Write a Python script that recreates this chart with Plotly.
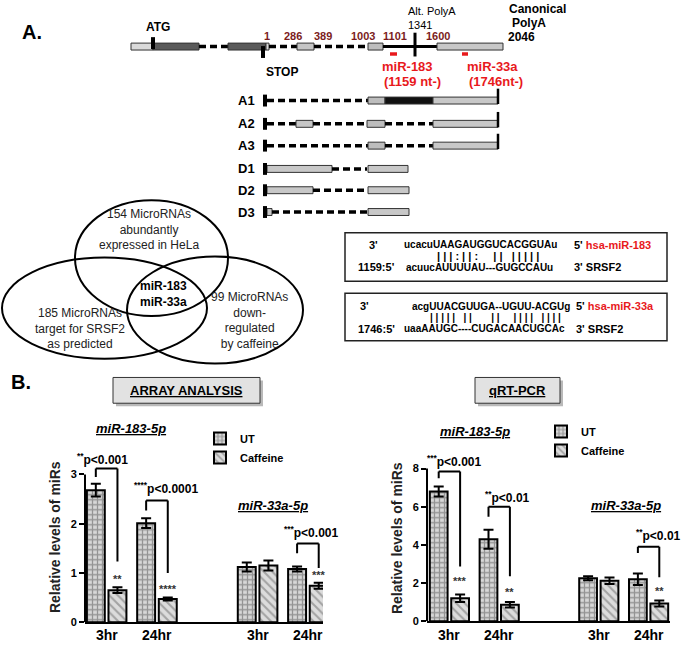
import plotly.graph_objects as go

W, H = 683, 647
FONT = "Liberation Sans, Arial, sans-serif"
RED = "#e8191c"
DARKRED = "#7b1c1c"

# ---- data: panel B -------------------------------------------------------
cats = ["183 3hr", "183 24hr", "gap", "33a 3hr", "33a 24hr"]
bar_groups = ["183 3hr", "183 24hr", "33a 3hr", "33a 24hr"]
tick_labels = ["3hr", "24hr", "3hr", "24hr"]

ut_array = [2.68, 2.01, 1.12, 1.08]
ut_array_err = [0.13, 0.1, 0.09, 0.05]
caf_array = [0.65, 0.47, 1.15, 0.74]
caf_array_err = [0.06, 0.03, 0.1, 0.06]

ut_qpcr = [6.8, 4.3, 2.25, 2.2]
ut_qpcr_err = [0.26, 0.5, 0.1, 0.3]
caf_qpcr = [1.2, 0.86, 2.12, 0.93]
caf_qpcr_err = [0.2, 0.14, 0.17, 0.16]

# significance: (group, left low, top, right low, label, star text, star y)
sig_array = [
    (0, 2.95, 3.12, 1.23, "<sup>**</sup>p&lt;0.001", "**", 0.87),
    (1, 2.27, 2.47, 1.0, "<sup>****</sup>p&lt;0.0001", "****", 0.68),
    (4, 1.4, 1.6, 1.1, "<sup>***</sup>p&lt;0.001", "***", 0.96),
]
sig_qpcr = [
    (0, 7.5, 7.85, 2.87, "<sup>***</sup>p&lt;0.001", "***", 2.1),
    (1, 5.47, 6.0, 2.35, "<sup>**</sup>p&lt;0.01", "**", 1.55),
    (4, 3.57, 3.9, 2.3, "<sup>**</sup>p&lt;0.01", "**", 1.6),
]
label_pos_array = [(-0.08, 3.32), (1.18, 2.72), (4.07, 1.83)]
label_pos_qpcr = [(0.09, 8.42), (1.17, 6.5), (4.2, 4.5)]

venn_top = ["154 MicroRNAs", "abundantly", "expressed in HeLa"]
venn_left = ["185 MicroRNAs", "target for SRSF2", "as predicted"]
venn_right = ["99 MicroRNAs", "down-", "regulated", "by caffeine"]
venn_common = ["miR-183", "miR-33a"]


def px(x):
    return x / W


def py(y):
    return 1 - y / H


shapes = []
annots = []


def txt(x, y, s, size=11, color="black", bold=False, xanchor="center", italic=False):
    if bold:
        s = "<b>" + s + "</b>"
    if italic:
        s = "<i>" + s + "</i>"
    annots.append(dict(x=px(x), y=py(y), xref="paper", yref="paper", text=s,
                       showarrow=False, xanchor=xanchor, yanchor="middle",
                       font=dict(family=FONT, size=size, color=color)))


def box(x0, x1, yc, h, fill, lw=1, lc="#333333"):
    shapes.append(dict(type="rect", xref="paper", yref="paper",
                       x0=px(x0), x1=px(x1), y0=py(yc + h / 2), y1=py(yc - h / 2),
                       fillcolor=fill, line=dict(color=lc, width=lw)))


def seg(x0, x1, y0, y1, width=3.5, dash=None, color="black"):
    ln = dict(color=color, width=width)
    if dash:
        ln["dash"] = dash
    shapes.append(dict(type="line", xref="paper", yref="paper",
                       x0=px(x0), x1=px(x1), y0=py(y0), y1=py(y1), line=ln))


def draw_parts(parts, y):
    for p in parts:
        if p[0] == "box":
            box(p[1], p[2], y, 7, p[3])
        elif p[0] == "dash":
            seg(p[1], p[2], y, y, dash="7px,4px")
        else:
            seg(p[1], p[2], y, y, width=3)


def spaced(s):
    return "&#160;".join("&#160;" if c == " " else c for c in s)


# ---- panel A: gene diagram ----------------------------------------------
main_parts = [
    ("box", 131, 153, "#dadada"), ("box", 153, 199, "#5a5a5a"),
    ("dash", 199, 228), ("box", 228, 266, "#5a5a5a"), ("box", 266, 269, "#dadada"),
    ("dash", 269, 297), ("box", 297, 314, "#c6c6c6"), ("dash", 314, 368),
    ("box", 368, 383, "#bdbdbd"), ("line", 383, 437), ("box", 437, 503, "#c8c8c8"),
]
draw_parts(main_parts, 47)
box(151, 155, 43.5, 12, "black", lw=0)
box(261, 265, 52.5, 12, "black", lw=0)
seg(415, 415, 33, 57, width=3)
box(390, 397, 54.5, 3.5, RED, lw=0)
box(462, 468, 54.5, 3.5, RED, lw=0)

isoforms = [
    ("A1", 101.5, True, [("dash", 267, 368), ("box", 368, 385, "#bdbdbd"),
                         ("box", 385, 433, "#111111"), ("box", 433, 498, "#c8c8c8")]),
    ("A2", 125, True, [("dash", 267, 296), ("box", 296, 313, "#c6c6c6"),
                       ("dash", 313, 367), ("box", 367, 385, "#bdbdbd"),
                       ("dash", 385, 433), ("box", 433, 498, "#c8c8c8")]),
    ("A3", 147, True, [("dash", 267, 368), ("box", 368, 385, "#bdbdbd"),
                       ("dash", 385, 433), ("box", 433, 498, "#c8c8c8")]),
    ("D1", 170.5, False, [("box", 267, 332, "#c8c8c8"), ("dash", 332, 367),
                          ("box", 368, 408, "#c8c8c8")]),
    ("D2", 192, False, [("box", 267, 313, "#c8c8c8"), ("dash", 313, 368),
                        ("box", 368, 409, "#c8c8c8")]),
    ("D3", 214, False, [("box", 267, 272, "#c8c8c8"), ("dash", 272, 368),
                        ("box", 368, 409, "#c8c8c8")]),
]
for name, y, end_tick, parts in isoforms:
    txt(246, y, name, size=13, bold=True)
    draw_parts(parts, y)
    box(263, 267, y, 12, "black", lw=0)
    if end_tick:
        seg(498, 498, y + 3.5, y - 12, width=2.5)

txt(32, 32, "A.", size=20, bold=True)
txt(158, 27, "ATG", size=12, bold=True)
for lab, x in [("1", 267), ("286", 293), ("389", 323), ("1003", 363),
               ("1101", 395), ("1600", 438)]:
    txt(x, 36, lab, size=11, color=DARKRED, bold=True)
txt(432, 11, "Alt. PolyA", size=11)
txt(420, 25, "1341", size=11)
txt(537, 9, "Canonical", size=12, bold=True)
txt(529, 23, "PolyA", size=12, bold=True)
txt(521, 37, "2046", size=12, bold=True)
txt(282, 73, "STOP", size=12, bold=True)
txt(407, 67, "miR-183", size=13, color=RED, bold=True)
txt(412, 82, "(1159 nt-)", size=13, color=RED, bold=True)
txt(492, 67, "miR-33a", size=13, color=RED, bold=True)
txt(496, 82, "(1746nt-)", size=13, color=RED, bold=True)

# ---- panel A: Venn ------------------------------------------------------
for x0, x1, y0, y1 in [(75, 228, 202, 319), (2, 207, 260, 362), (127, 303, 259, 367)]:
    shapes.append(dict(type="circle", xref="paper", yref="paper",
                       x0=px(x0), x1=px(x1), y0=py(y1), y1=py(y0),
                       line=dict(color="black", width=2)))
txt(149, 232, "<br>".join(venn_top), size=12, color="#222222")
txt(80, 332, "<br>".join(venn_left), size=12, color="#222222")
txt(249, 323, "<br>".join(venn_right), size=12, color="#222222")
txt(163, 297, "<br>".join(venn_common), size=12, bold=True)

# ---- panel A: alignments ------------------------------------------------
for y0, y1 in [(235, 284), (296, 344)]:
    shapes.append(dict(type="rect", xref="paper", yref="paper", x0=px(345), x1=px(667),
                       y0=py(y1), y1=py(y0), line=dict(color="#222222", width=1.5)))
redtxt = "<span style='color:%s'>%s</span>"
txt(373, 247, "3'", bold=True)
txt(402, 247, "ucacuUAAGAUGGUCACGGUAu", size=10, bold=True, xanchor="left")
txt(572, 247, "5' " + redtxt % (RED, "hsa-miR-183"), bold=True, xanchor="left")
txt(435, 258, spaced("|||:||:  || |||||"), size=11, bold=True, xanchor="left")
txt(356, 270, "1159:5'", bold=True, xanchor="left")
txt(404, 270, "acuucAUUUUAU---GUGCCAUu", size=10, bold=True, xanchor="left")
txt(572, 270, "3' SRSF2", bold=True, xanchor="left")

txt(358, 309, "3'", bold=True, xanchor="left")
txt(410, 309, "acgUUACGUUGA--UGUU-ACGUg", size=10, bold=True, xanchor="left")
txt(574, 309, "5' " + redtxt % (RED, "hsa-miR-33a"), bold=True, xanchor="left")
txt(428, 320, spaced("||||| ||   ||  |||| ||||"), size=10, bold=True, xanchor="left")
txt(356, 332, "1746:5'", bold=True, xanchor="left")
txt(402, 332, "uaaAAUGC----CUGACAACUGCAc", size=10, bold=True, xanchor="left")
txt(574, 332, "3' SRSF2", bold=True, xanchor="left")

# ---- panel B headers ----------------------------------------------------
txt(21, 386, "B.", size=20, bold=True)
for x0, x1, label in [(113, 260, "ARRAY ANALYSIS"), (475, 560, "qRT-PCR")]:
    shapes.append(dict(type="rect", xref="paper", yref="paper", x0=px(x0 + 3), x1=px(x1 + 3),
                       y0=py(410), y1=py(384), fillcolor="#b9b9b9", line=dict(width=0)))
    shapes.append(dict(type="rect", xref="paper", yref="paper", x0=px(x0), x1=px(x1),
                       y0=py(407), y1=py(381), fillcolor="#e2e2e2",
                       line=dict(color="#333333", width=1)))
    txt((x0 + x1) / 2, 394, "<u>" + label + "</u>", size=13, bold=True)
txt(131, 433, "<u>miR-183-5p</u>", size=13, bold=True, italic=True)
txt(475, 436, "<u>miR-183-5p</u>", size=13, bold=True, italic=True)
txt(273, 510, "<u>miR-33a-5p</u>", size=13, bold=True, italic=True)
txt(626, 510, "<u>miR-33a-5p</u>", size=13, bold=True, italic=True)

# ---- panel B bars -------------------------------------------------------
fig = go.Figure()
ut_pat = dict(shape="+", fgcolor="#505050", bgcolor="#d8d8d8", size=5, solidity=0.45)
caf_pat = dict(shape="\\", fgcolor="#6a6a6a", bgcolor="#dcdcdc", size=6, solidity=0.35)
err_style = dict(type="data", color="black", thickness=2, width=5, visible=True)

for xa, ya, lg, ut, ut_e, caf, caf_e in [
        ("x", "y", "legend", ut_array, ut_array_err, caf_array, caf_array_err),
        ("x2", "y2", "legend2", ut_qpcr, ut_qpcr_err, caf_qpcr, caf_qpcr_err)]:
    fig.add_trace(go.Bar(x=bar_groups, y=ut, name="<b>UT</b>", xaxis=xa, yaxis=ya,
                         legend=lg, error_y=dict(array=ut_e, **err_style),
                         marker=dict(color="#d8d8d8", pattern=ut_pat,
                                     line=dict(color="black", width=2))))
    fig.add_trace(go.Bar(x=bar_groups, y=caf, name="<b>Caffeine</b>", xaxis=xa, yaxis=ya,
                         legend=lg, error_y=dict(array=caf_e, **err_style),
                         marker=dict(color="#dcdcdc", pattern=caf_pat,
                                     line=dict(color="black", width=2))))

off = 0.215
column_ticks = [i + d for i in range(len(cats)) for d in (-off, off)]
for xr, yr, sigs, lpos, ytop in [("x", "y", sig_array, label_pos_array, 3),
                                 ("x2", "y2", sig_qpcr, label_pos_qpcr, 8)]:
    # y axis line only up to the last tick
    shapes.append(dict(type="line", xref=xr + " domain", yref=yr, x0=0, x1=0, y0=0, y1=ytop,
                       line=dict(color="black", width=2)))
    for (g, ylo, yt, yro, lab, star, sy), (lx, ly) in zip(sigs, lpos):
        for x0, x1, y0, y1 in [(g - off, g - off, ylo, yt), (g - off, g + off, yt, yt),
                               (g + off, g + off, yt, yro)]:
            shapes.append(dict(type="line", xref=xr, yref=yr, x0=x0, x1=x1, y0=y0, y1=y1,
                               line=dict(color="black", width=2)))
        annots.append(dict(x=lx, y=ly, xref=xr, yref=yr, text="<b>" + lab + "</b>",
                           showarrow=False, font=dict(family=FONT, size=12, color="black")))
        annots.append(dict(x=g + off, y=sy, xref=xr, yref=yr, text="<b>" + star + "</b>",
                           showarrow=False, font=dict(family=FONT, size=11, color="#333333")))
    for g, t in zip(bar_groups, tick_labels):
        annots.append(dict(x=g, y=py(641), xref=xr, yref="paper", text="<b>" + t + "</b>",
                           showarrow=False, yanchor="middle",
                           font=dict(family=FONT, size=14, color="black")))

ax_common = dict(showgrid=False, zeroline=False, fixedrange=True)
xcommon = dict(type="category", categoryorder="array", categoryarray=cats,
               ticks="", showticklabels=False,
               showline=True, linecolor="black", linewidth=2, **ax_common)
# linear twin axis only to draw a tick under every column, GraphPad style
xticks = dict(type="linear", tickvals=column_ticks, ticks="outside", ticklen=5, tickwidth=2,
              tickcolor="black", showticklabels=False, showline=False, side="bottom",
              **ax_common)
ycommon = dict(showline=False, ticks="outside", ticklen=5, tickwidth=2, tickcolor="black",
               tickfont=dict(family=FONT, size=11, color="black", weight="bold"),
               title=dict(text="Relative levels of miRs", standoff=6,
                          font=dict(family=FONT, size=14, color="#222222", weight="bold")),
               **ax_common)

legend_common = dict(bgcolor="rgba(0,0,0,0)", xanchor="left", yanchor="top",
                     itemwidth=30, tracegroupgap=0,
                     font=dict(family=FONT, size=11, color="black"))

x1_range = [-0.43, 4.3]
x2_range = [-0.45, 4.43]
fig.update_layout(
    width=W, height=H,
    margin=dict(l=0, r=0, t=0, b=0),
    paper_bgcolor="white", plot_bgcolor="white",
    barmode="group", bargap=0.14, bargroupgap=0.17,
    xaxis=dict(domain=[85 / W, 323 / W], range=x1_range, anchor="y", **xcommon),
    yaxis=dict(domain=[py(628), py(456.5)], range=[0, 3.45], tickvals=[0, 1, 2, 3],
               anchor="x", **ycommon),
    xaxis2=dict(domain=[427 / W, 670 / W], range=x2_range, anchor="y2", **xcommon),
    yaxis2=dict(domain=[py(627), py(459.5)], range=[0, 8.7], tickvals=[0, 2, 4, 6, 8],
                anchor="x2", **ycommon),
    xaxis3=dict(overlaying="x", anchor="y", range=x1_range, **xticks),
    xaxis4=dict(overlaying="x2", anchor="y2", range=x2_range, **xticks),
    legend=dict(x=px(200), y=py(428), **legend_common),
    legend2=dict(x=px(541), y=py(421), **legend_common),
    shapes=shapes,
    annotations=annots,
    showlegend=True,
)

fig.write_html("out.html", config={"displayModeBar": False},
               post_script="document.body.style.margin='0px';")
